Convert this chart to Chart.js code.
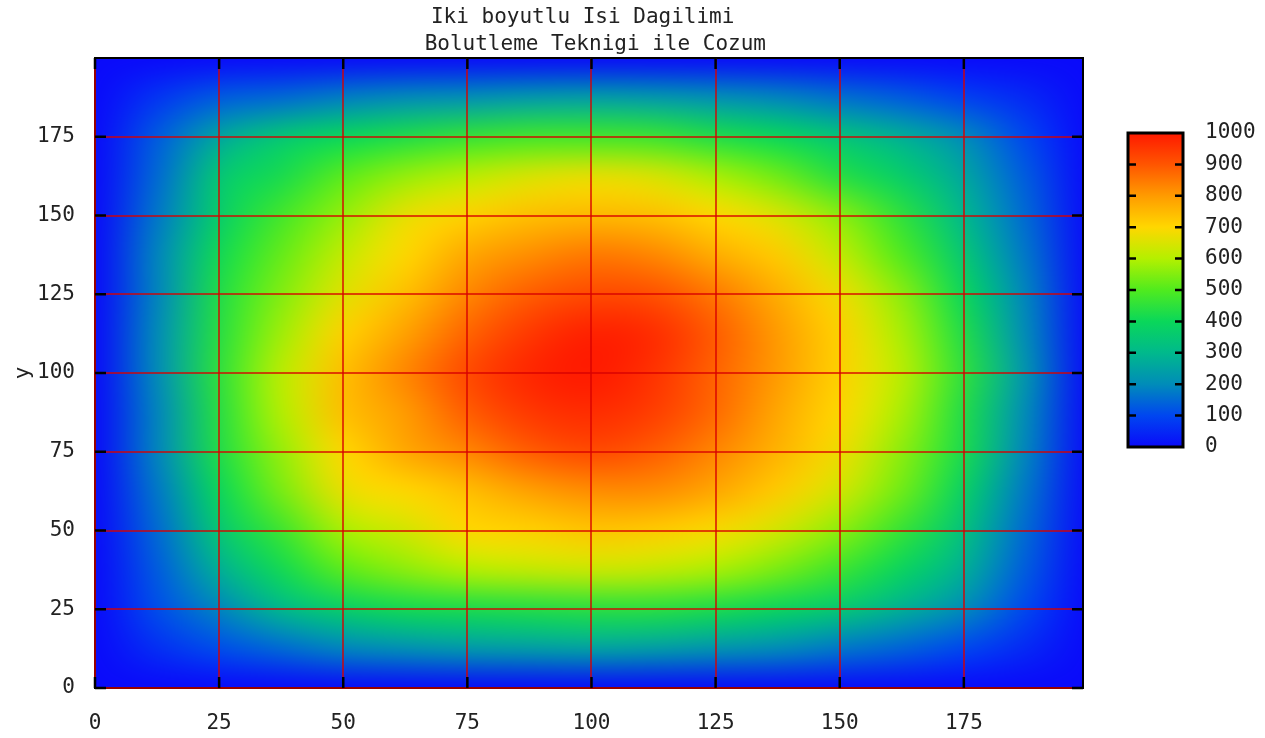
<!DOCTYPE html>
<html>
<head>
<meta charset="utf-8">
<title>Iki boyutlu Isi Dagilimi</title>
<script src="https://cdn.jsdelivr.net/npm/chart.js@4"></script>
<style>
  html, body { margin: 0; padding: 0; background: #fff; }
  canvas { display: block; }
</style>
</head>
<body>
<canvas id="heatChart" width="1265" height="738"></canvas>
<script>
// grid nodes (every 12.5 units) and the temperature, rows bottom -> top
const xNodes = [0, 12.5, 25, 37.5, 50, 62.5, 75, 87.5, 100, 112.5, 125, 137.5, 150, 162.5, 175, 187.5, 200];
const yNodes = [0, 12.5, 25, 37.5, 50, 62.5, 75, 87.5, 100, 112.5, 125, 137.5, 150, 162.5, 175, 187.5, 200];
const heat = [
  [0, 0, 0, 0, 0, 0, 0, 0, 0, 0, 0, 0, 0, 0, 0, 0, 0],
  [0, 60, 110, 150, 190, 210, 230, 240, 250, 240, 220, 200, 170, 140, 100, 50, 0],
  [0, 110, 190, 300, 370, 410, 420, 430, 440, 440, 420, 390, 350, 280, 200, 100, 0],
  [0, 130, 280, 410, 510, 560, 600, 620, 630, 620, 590, 540, 470, 390, 280, 130, 0],
  [0, 150, 350, 470, 590, 640, 700, 710, 730, 720, 690, 640, 560, 460, 330, 150, 0],
  [0, 170, 400, 540, 670, 700, 740, 790, 820, 820, 780, 720, 640, 530, 380, 170, 0],
  [0, 190, 430, 570, 700, 780, 830, 890, 920, 890, 830, 760, 680, 560, 420, 190, 0],
  [0, 190, 440, 600, 740, 800, 890, 950, 970, 940, 870, 780, 700, 590, 430, 200, 0],
  [0, 200, 450, 610, 740, 830, 920, 980, 1000, 960, 880, 800, 710, 610, 450, 220, 0],
  [0, 200, 440, 580, 710, 790, 880, 950, 990, 970, 890, 800, 710, 590, 430, 200, 0],
  [0, 190, 430, 550, 660, 740, 830, 890, 920, 910, 850, 770, 680, 560, 400, 190, 0],
  [0, 190, 410, 520, 620, 700, 780, 820, 850, 830, 770, 720, 620, 500, 350, 170, 0],
  [0, 170, 370, 480, 570, 670, 710, 740, 750, 740, 700, 650, 560, 450, 300, 150, 0],
  [0, 150, 350, 420, 510, 570, 610, 650, 670, 650, 590, 530, 440, 370, 260, 130, 0],
  [0, 130, 260, 350, 400, 430, 460, 480, 480, 470, 430, 400, 340, 280, 200, 100, 0],
  [0, 70, 130, 150, 180, 200, 210, 230, 240, 230, 210, 190, 160, 130, 90, 50, 0],
  [0, 0, 0, 0, 0, 0, 0, 0, 0, 0, 0, 0, 0, 0, 0, 0, 0]
];
const xTicks = [0, 25, 50, 75, 100, 125, 150, 175];
const yTicks = [0, 25, 50, 75, 100, 125, 150, 175];
const cbTicks = [0, 100, 200, 300, 400, 500, 600, 700, 800, 900, 1000];

// palette, one colour per 100
const palette = [
  [10, 10, 250], [0, 70, 240], [0, 140, 185], [0, 185, 140], [10, 215, 90], [80, 235, 30],
  [180, 240, 0], [255, 215, 0], [255, 155, 0], [255, 85, 0], [255, 25, 0]
];
const font = { family: 'DejaVu Sans Mono', size: 21 };
const textColor = '#222';

function colorFor(v) {
  const t = Math.max(0, Math.min(1000, v)) / 100;
  const i = Math.min(9, Math.floor(t));
  const f = t - i;
  const a = palette[i], b = palette[i + 1];
  return [0, 1, 2].map(k => Math.round(a[k] + (b[k] - a[k]) * f));
}

// keep tick label padding from shrinking the plot area
function noPadding(s) {
  s.paddingTop = 0; s.paddingBottom = 0; s.paddingLeft = 0; s.paddingRight = 0;
}

/* ================= PLUGINS ================= */
const heatMap = {
  id: 'heatMap',
  beforeDatasetsDraw(chart) {
    const { ctx, chartArea: area, scales: { x, y } } = chart;
    const pts = chart.data.datasets[0].data;
    const cols = xNodes.length, rows = yNodes.length;
    const off = document.createElement('canvas');
    off.width = cols; off.height = rows;
    const octx = off.getContext('2d');
    const img = octx.createImageData(cols, rows);
    pts.forEach(p => {
      const i = xNodes.indexOf(p.x), j = yNodes.indexOf(p.y);
      const c = colorFor(p.v);
      const o = ((rows - 1 - j) * cols + i) * 4;
      img.data[o] = c[0]; img.data[o + 1] = c[1]; img.data[o + 2] = c[2]; img.data[o + 3] = 255;
    });
    octx.putImageData(img, 0, 0);

    const hx = (xNodes[1] - xNodes[0]) / 2, hy = (yNodes[1] - yNodes[0]) / 2;
    const left = x.getPixelForValue(xNodes[0] - hx);
    const right = x.getPixelForValue(xNodes[cols - 1] + hx);
    const top = y.getPixelForValue(yNodes[rows - 1] + hy);
    const bottom = y.getPixelForValue(yNodes[0] - hy);

    ctx.save();
    ctx.beginPath();
    ctx.rect(area.left, area.top, area.width, area.height);
    ctx.clip();
    ctx.imageSmoothingEnabled = true;
    ctx.imageSmoothingQuality = 'high';
    ctx.drawImage(off, left, top, right - left, bottom - top);
    ctx.restore();
  },
  afterDatasetsDraw(chart) {
    const { ctx, chartArea: a } = chart;
    ctx.save();
    ctx.strokeStyle = '#000';
    ctx.lineWidth = 2;
    ctx.strokeRect(a.left, a.top, a.width, a.height);
    ctx.restore();
  }
};

const frameTicks = {
  id: 'frameTicks',
  afterDraw(chart) {
    const { ctx, chartArea: a, scales: { x, y, cb } } = chart;
    const len = 11;
    ctx.save();
    ctx.strokeStyle = '#000';
    ctx.lineWidth = 2.5;
    ctx.beginPath();
    xTicks.forEach(v => {
      const px = x.getPixelForValue(v);
      ctx.moveTo(px, a.bottom); ctx.lineTo(px, a.bottom - len);
      ctx.moveTo(px, a.top); ctx.lineTo(px, a.top + len);
    });
    yTicks.forEach(v => {
      const py = y.getPixelForValue(v);
      ctx.moveTo(a.left, py); ctx.lineTo(a.left + len, py);
      ctx.moveTo(a.right, py); ctx.lineTo(a.right - len, py);
    });
    ctx.stroke();

    // colour box
    const top = cb.getPixelForValue(cbTicks[cbTicks.length - 1]);
    const bottom = cb.getPixelForValue(cbTicks[0]);
    const left = cb.left + 45, w = 55;
    const grad = ctx.createLinearGradient(0, bottom, 0, top);
    palette.forEach((c, i) => grad.addColorStop(i / (palette.length - 1), `rgb(${c[0]},${c[1]},${c[2]})`));
    ctx.fillStyle = grad;
    ctx.fillRect(left, top, w, bottom - top);
    ctx.lineWidth = 3;
    ctx.strokeRect(left, top, w, bottom - top);
    ctx.lineWidth = 2.5;
    ctx.beginPath();
    cbTicks.slice(1, -1).forEach(v => {
      const py = cb.getPixelForValue(v);
      ctx.moveTo(left, py); ctx.lineTo(left + 8, py);
      ctx.moveTo(left + w, py); ctx.lineTo(left + w - 8, py);
    });
    ctx.stroke();
    ctx.restore();
  }
};

/* ================= CHART ================= */
const heatPoints = heat.flatMap((row, j) => row.map((v, i) => ({ x: xNodes[i], y: yNodes[j], v: v })));

const gridStyle = { color: 'rgba(215,0,0,0.7)', lineWidth: 2, drawTicks: false, z: 1 };

new Chart(document.getElementById('heatChart'), {
  type: 'scatter',
  data: {
    datasets: [{
      label: 'Isi',
      data: heatPoints,
      pointRadius: 0,
      showLine: false
    }]
  },
  options: {
    responsive: false,
    animation: false,
    events: [],
    layout: { padding: 0 },
    plugins: {
      legend: { display: false },
      tooltip: { enabled: false },
      title: {
        display: true,
        fullSize: false,
        text: ['Iki boyutlu Isi Dagilimi ', ' Bolutleme Teknigi ile Cozum'],
        color: textColor,
        font: { family: font.family, size: 21, lineHeight: '27px', weight: 'normal' },
        padding: { top: 4, bottom: 0 }
      }
    },
    scales: {
      x: {
        type: 'linear',
        min: 0,
        max: 199,
        afterBuildTicks: s => { s.ticks = xTicks.map(v => ({ value: v })); },
        afterFit: s => { s.height = 50; noPadding(s); },
        grid: gridStyle,
        border: { display: false },
        ticks: { color: textColor, font: font, padding: 23, maxRotation: 0, autoSkip: false, callback: v => String(v) }
      },
      y: {
        type: 'linear',
        min: 0,
        max: 200,
        afterBuildTicks: s => { s.ticks = yTicks.map(v => ({ value: v })); },
        afterFit: s => { s.width = 95; noPadding(s); },
        grid: gridStyle,
        border: { display: false },
        title: { display: true, text: 'y', color: textColor, font: font, padding: { top: 11, bottom: 0 } },
        ticks: { color: textColor, font: font, padding: 20, autoSkip: false, callback: v => String(v) }
      },
      cb: {
        type: 'linear',
        axis: 'y',
        position: 'right',
        min: -767.5,
        max: 1238.85,
        afterBuildTicks: s => { s.ticks = cbTicks.map(v => ({ value: v })); },
        afterFit: s => { s.width = 182; noPadding(s); },
        grid: { display: false, drawTicks: false },
        border: { display: false },
        ticks: { color: textColor, font: font, padding: 122, autoSkip: false, callback: v => String(v) }
      }
    }
  },
  plugins: [heatMap, frameTicks]
});
</script>
</body>
</html>
